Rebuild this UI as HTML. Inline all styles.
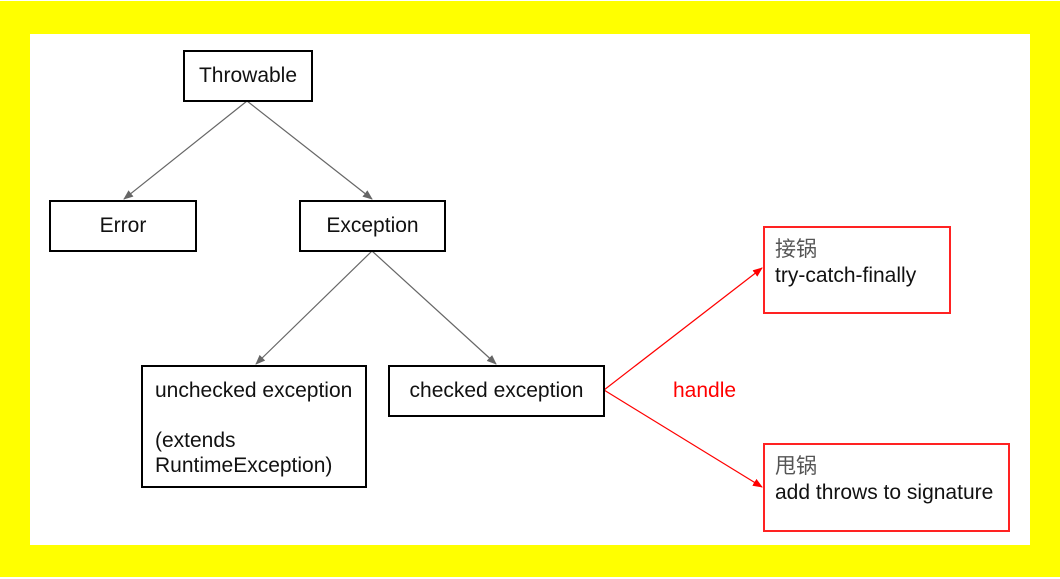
<!DOCTYPE html>
<html><head><meta charset="utf-8"><style>
body{margin:0;width:1060px;height:579px;background:#fff;position:relative;overflow:hidden;font-family:"Liberation Sans","Noto Sans CJK SC",sans-serif}
.y{position:absolute;left:0;top:1px;width:1060px;height:576px;background:#ff0}
.w{position:absolute;left:30px;top:34px;width:1000px;height:511px;background:#fff}
.b{position:absolute;box-sizing:border-box;border:2px solid #000;font-size:21px;color:#111;display:flex;align-items:center;justify-content:center}
.r{position:absolute;box-sizing:border-box;border:2px solid #f22;font-size:21px;color:#111;padding:9px 0 0 10px;line-height:26px}
.r span{color:#555}
svg{position:absolute;left:0;top:0}
</style></head><body>
<div class="y"></div><div class="w"></div>
<svg width="1060" height="579">
<defs>
<marker id="g" markerWidth="10" markerHeight="8" refX="9" refY="4" orient="auto" markerUnits="userSpaceOnUse"><path d="M0,0L10,4L0,8z" fill="#666"/></marker>
<marker id="rd" markerWidth="10" markerHeight="8" refX="9" refY="4" orient="auto" markerUnits="userSpaceOnUse"><path d="M0,0L10,4L0,8z" fill="#f00"/></marker>
</defs>
<g stroke="#666" stroke-width="1.2" fill="none">
<line x1="247" y1="101" x2="124" y2="199" marker-end="url(#g)"/>
<line x1="247" y1="101" x2="372" y2="199" marker-end="url(#g)"/>
<line x1="372" y1="251" x2="256" y2="364" marker-end="url(#g)"/>
<line x1="372" y1="251" x2="496" y2="364" marker-end="url(#g)"/>
</g>
<g stroke="#f00" stroke-width="1.2">
<line x1="604" y1="390" x2="762" y2="268" marker-end="url(#rd)"/>
<line x1="604" y1="390" x2="762" y2="487" marker-end="url(#rd)"/>
</g>
<text x="673" y="397" fill="#f00" font-size="21" font-family="Liberation Sans,sans-serif">handle</text>
</svg>
<div class="b" style="left:183px;top:50px;width:130px;height:52px">Throwable</div>
<div class="b" style="left:49px;top:200px;width:148px;height:52px">Error</div>
<div class="b" style="left:299px;top:200px;width:147px;height:52px">Exception</div>
<div class="b" style="left:141px;top:365px;width:226px;height:123px;display:block;padding:11px 0 0 12px;line-height:25px">unchecked exception<br><br>(extends<br>RuntimeException)</div>
<div class="b" style="left:388px;top:365px;width:217px;height:52px">checked exception</div>
<div class="r" style="left:763px;top:226px;width:188px;height:88px"><span>接锅</span><br>try-catch-finally</div>
<div class="r" style="left:763px;top:443px;width:247px;height:89px"><span>甩锅</span><br>add throws to signature</div>
</body></html>
